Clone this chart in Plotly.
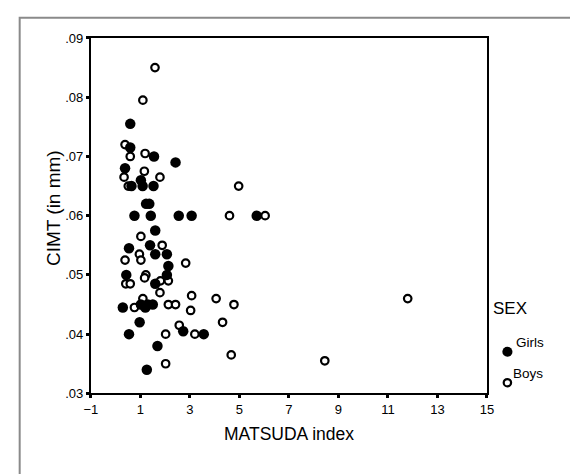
import plotly.graph_objects as go

# ---- data ----
girls_x = [0.59, 0.59, 1.55, 2.42, 0.38, 1.02, 0.64, 1.09, 1.53, 1.23, 1.36,
           0.76, 1.42, 2.55, 3.07, 5.70, 1.60, 1.39, 0.54, 1.60, 2.07, 2.13,
           0.43, 2.07, 1.60, 0.29, 1.02, 1.20, 1.30, 1.50, 0.97, 0.54, 2.73,
           3.56, 1.69, 1.26]
girls_y = [.0755, .0715, .070, .069, .068, .066, .065, .065, .065, .062, .062,
           .060, .060, .060, .060, .060, .0575, .055, .0545, .0535, .0535, .0515,
           .050, .050, .0485, .0445, .045, .0445, .045, .045, .042, .040, .0405,
           .040, .038, .034]

boys_x = [1.59, 1.10, 0.38, 0.59, 1.19, 1.16, 0.34, 1.79, 0.51, 4.97, 4.60,
          6.04, 1.02, 1.88, 0.96, 0.38, 1.02, 2.83, 1.22, 1.17, 1.81, 2.13,
          0.41, 0.59, 1.79, 1.10, 3.07, 4.06, 4.78, 11.80, 0.76, 2.13, 2.42,
          3.03, 2.57, 4.32, 2.02, 3.20, 4.67, 2.02, 8.45]
boys_y = [.085, .0795, .072, .070, .0705, .0675, .0665, .0665, .065, .065, .060,
          .060, .0565, .055, .0535, .0525, .0525, .052, .050, .0495, .049, .049,
          .0485, .0485, .047, .046, .0465, .046, .045, .046, .0445, .045, .045,
          .044, .0415, .042, .040, .040, .0365, .035, .0355]

x_ticks = [-1, 1, 3, 5, 7, 9, 11, 13, 15]
y_ticks = [0.03, 0.04, 0.05, 0.06, 0.07, 0.08, 0.09]
y_tick_text = [".03", ".04", ".05", ".06", ".07", ".08", ".09"]

W, H = 570, 474
FONT = "Arial, 'Liberation Sans', sans-serif"

def px(x):
    return x / W

def py(y):
    return 1 - y / H

fig = go.Figure()
fig.add_trace(go.Scatter(
    x=boys_x, y=boys_y, mode="markers", name="Boys",
    marker=dict(symbol="circle", size=7.5, color="white",
                line=dict(color="black", width=2.2)),
    showlegend=False, cliponaxis=False))
fig.add_trace(go.Scatter(
    x=girls_x, y=girls_y, mode="markers", name="Girls",
    marker=dict(symbol="circle", size=10.5, color="black", line=dict(width=0)),
    showlegend=False, cliponaxis=False))

axis_common = dict(showgrid=False, zeroline=False, showline=True, mirror=True,
                   linecolor="black", linewidth=2, ticks="outside", ticklen=3,
                   tickwidth=3, tickcolor="black",
                   tickfont=dict(family=FONT, size=13, color="black"))

fig.update_layout(
    width=W, height=H,
    margin=dict(l=0, r=0, t=0, b=0),
    paper_bgcolor="white", plot_bgcolor="white",
    xaxis=dict(domain=[px(86), px(492)], range=[-1, 15], tickvals=x_ticks,
               **axis_common),
    yaxis=dict(domain=[py(399), py(32)], range=[0.03, 0.09], tickvals=y_ticks,
               ticktext=y_tick_text, **axis_common),
    font=dict(family=FONT, color="black"),
    hovermode=False,
    shapes=[
        # outer frame
        dict(type="rect", xref="paper", yref="paper",
             x0=px(13), x1=1.05, y0=-0.05, y1=py(11),
             line=dict(color="#8a8a8a", width=2), fillcolor="rgba(0,0,0,0)",
             layer="below"),
        # legend symbols
        dict(type="circle", xref="paper", yref="paper",
             x0=px(507.8), x1=px(518.2), y0=py(361.2), y1=py(350.8),
             fillcolor="black", line=dict(width=0)),
        dict(type="circle", xref="paper", yref="paper",
             x0=px(509.2), x1=px(516.8), y0=py(391.8), y1=py(384.2),
             fillcolor="white", line=dict(color="black", width=2.2)),
    ],
    annotations=[
        dict(text="CIMT (in mm)", x=px(35), y=py(208), xref="paper",
             yref="paper", showarrow=False, textangle=-90,
             font=dict(size=19, family=FONT, color="black")),
        dict(text="MATSUDA index", x=px(289), y=py(453), xref="paper",
             yref="paper", showarrow=False,
             font=dict(size=17.5, family=FONT, color="black")),
        dict(text="SEX", x=px(535), y=py(323), xref="paper", yref="paper",
             showarrow=False, font=dict(size=17, family=FONT, color="black")),
        dict(text="Girls", x=px(553), y=py(356), xref="paper", yref="paper",
             showarrow=False, font=dict(size=13.5, family=FONT, color="black")),
        dict(text="Boys", x=px(552), y=py(388), xref="paper", yref="paper",
             showarrow=False, font=dict(size=13.5, family=FONT, color="black")),
    ],
)

fig.write_html(
    "out.html",
    config={"displayModeBar": False},
    post_script="document.body.style.margin='0px';"
                "document.body.style.overflow='hidden';",
)
